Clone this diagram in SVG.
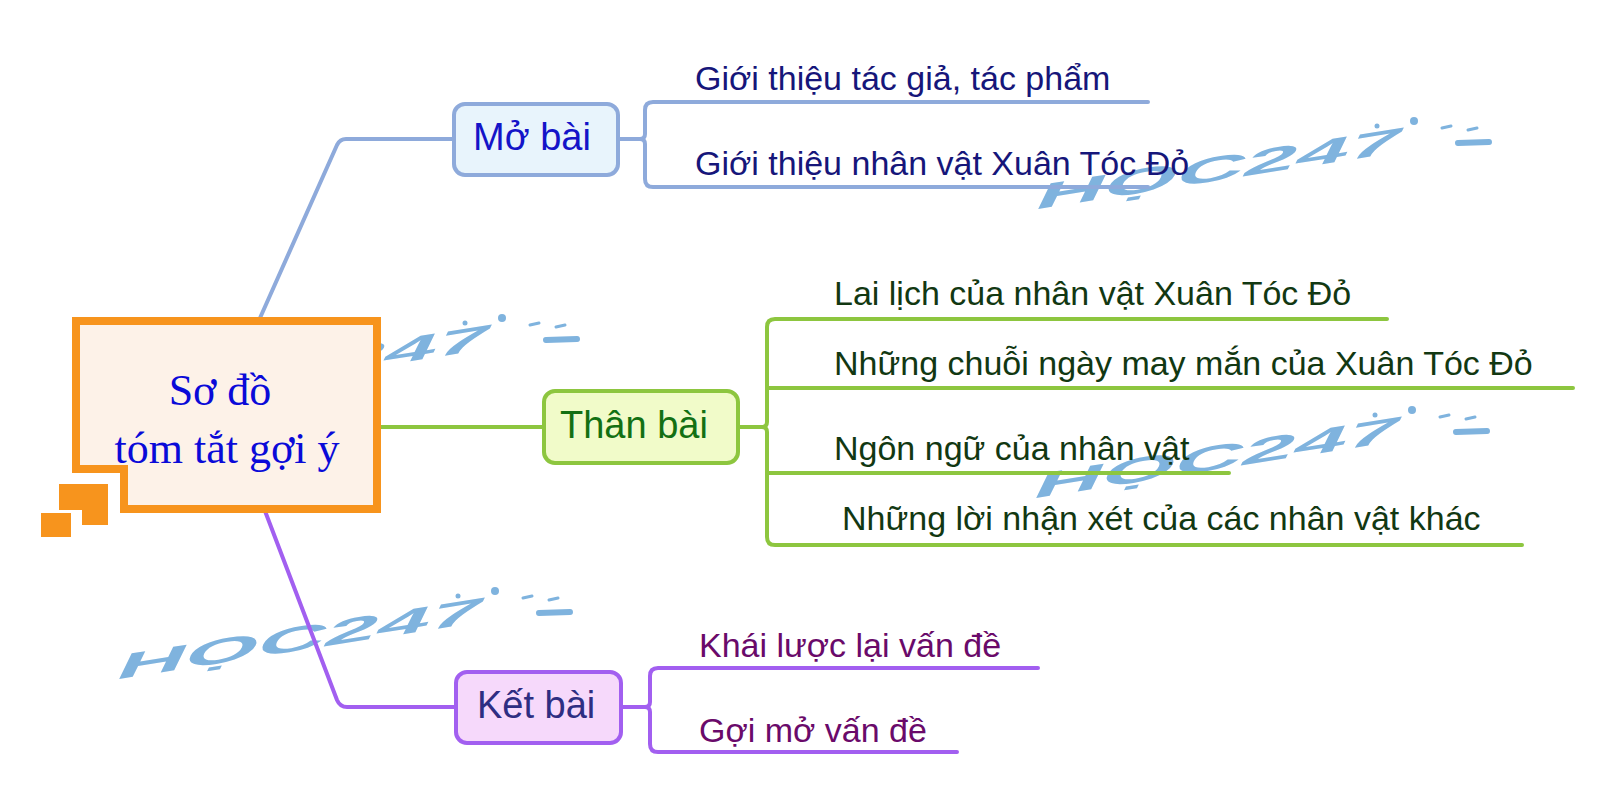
<svg xmlns="http://www.w3.org/2000/svg" xmlns:xlink="http://www.w3.org/1999/xlink" width="1600" height="805" viewBox="0 0 1600 805">
<style>
.wm{font-family:"Liberation Sans",Arial,sans-serif;font-weight:bold;font-size:34px;fill:#7fb3de;}
.wmd{stroke:#7fb3de;stroke-linecap:round;fill:none;}
.line{fill:none;stroke-width:4;stroke-linecap:round;stroke-linejoin:round;}
.blue{stroke:#8eaadb;}
.green{stroke:#8dc63f;}
.purple{stroke:#a25ff0;}
.lbl{font-family:"Liberation Sans",Arial,sans-serif;font-size:38px;}
.sub{font-family:"Liberation Sans",Arial,sans-serif;font-size:34px;}
</style>
<defs>
<g id="wmark">
<text class="wm" transform="rotate(-9) skewX(-35)" x="0" y="0" textLength="368" lengthAdjust="spacingAndGlyphs">HỌC247</text>
<circle cx="345" cy="-84" r="2.5" fill="#7fb3de"/>
<circle cx="382" cy="-89" r="4" fill="#7fb3de"/>
<path class="wmd" stroke-width="3" d="M410 -82 L419 -84 M436 -80 L445 -82"/>
<path class="wmd" stroke-width="6" d="M426 -67 L457 -68"/>
</g>
</defs>
<rect width="1600" height="805" fill="#ffffff"/>
<g id="watermarks">
<use xlink:href="#wmark" x="1032" y="210"/>
<use xlink:href="#wmark" x="120" y="407"/>
<use xlink:href="#wmark" x="1030" y="499"/>
<use xlink:href="#wmark" x="113" y="680"/>
</g>
<g id="connectors">
<path class="line blue" d="M260 318 L337 145 Q340 139 346 139 L452 139"/>
<path class="line green" d="M380 427 L542 427"/>
<path class="line purple" d="M265 511 L337 700 Q340 707 347 707 L454 707"/>
<path class="line blue" d="M620 139 H640 Q645 139 645 134 V110 Q645 102 653 102 H1148 M640 139 Q645 139 645 144 V179 Q645 187 653 187 H1148"/>
<path class="line green" d="M740 427 H762 Q767 427 767 422 V327 Q767 319 775 319 H1387 M762 427 Q767 427 767 432 V537 Q767 545 775 545 H1522 M767 388 H1573 M767 473 H1229"/>
<path class="line purple" d="M623 707 H645 Q650 707 650 702 V676 Q650 668 658 668 H1038 M645 707 Q650 707 650 712 V744 Q650 752 658 752 H957"/>
</g>
<g id="center">
<path d="M76 321 H377 V509 H124 V469 H76 Z" fill="#fdf2e8" stroke="#f7941d" stroke-width="8"/>
<path d="M59 484 H108 V525 H82 V510 H59 Z" fill="#f7941d"/>
<rect x="41" y="513" width="30" height="24" fill="#f7941d"/>
<text x="220" y="405" text-anchor="middle" font-family="'Liberation Serif','Times New Roman',serif" font-size="44" fill="#0a0ad8">Sơ đồ</text>
<text x="227" y="463" text-anchor="middle" font-family="'Liberation Serif','Times New Roman',serif" font-size="44" fill="#0a0ad8">tóm tắt gợi ý</text>
</g>
<g id="mo-bai">
<rect x="454" y="104" width="164" height="71" rx="11" fill="#e8f4fc" stroke="#8eaadb" stroke-width="4"/>
<text class="lbl" x="473" y="150" fill="#1414c8">Mở bài</text>
</g>
<g id="mo-bai-1"><text class="sub" x="695" y="90" fill="#16167a">Giới thiệu tác giả, tác phẩm</text></g>
<g id="mo-bai-2"><text class="sub" x="695" y="175" fill="#16167a">Giới thiệu nhân vật Xuân Tóc Đỏ</text></g>
<g id="than-bai">
<rect x="544" y="391" width="194" height="72" rx="11" fill="#f1fbc9" stroke="#8dc63f" stroke-width="4"/>
<text class="lbl" x="560" y="438" fill="#137013">Thân bài</text>
</g>
<g id="than-bai-1"><text class="sub" x="834" y="305" fill="#123812">Lai lịch của nhân vật Xuân Tóc Đỏ</text></g>
<g id="than-bai-2"><text class="sub" x="834" y="375" fill="#123812">Những chuỗi ngày may mắn của Xuân Tóc Đỏ</text></g>
<g id="than-bai-3"><text class="sub" x="834" y="460" fill="#123812">Ngôn ngữ của nhân vật</text></g>
<g id="than-bai-4"><text class="sub" x="842" y="530" fill="#123812">Những lời nhận xét của các nhân vật khác</text></g>
<g id="ket-bai">
<rect x="456" y="672" width="165" height="71" rx="11" fill="#f6d9fb" stroke="#a25ff0" stroke-width="4"/>
<text class="lbl" x="477" y="718" fill="#2e2e82">Kết bài</text>
</g>
<g id="ket-bai-1"><text class="sub" x="699" y="657" fill="#6a0a6a">Khái lược lại vấn đề</text></g>
<g id="ket-bai-2"><text class="sub" x="699" y="742" fill="#6a0a6a">Gợi mở vấn đề</text></g>
</svg>
